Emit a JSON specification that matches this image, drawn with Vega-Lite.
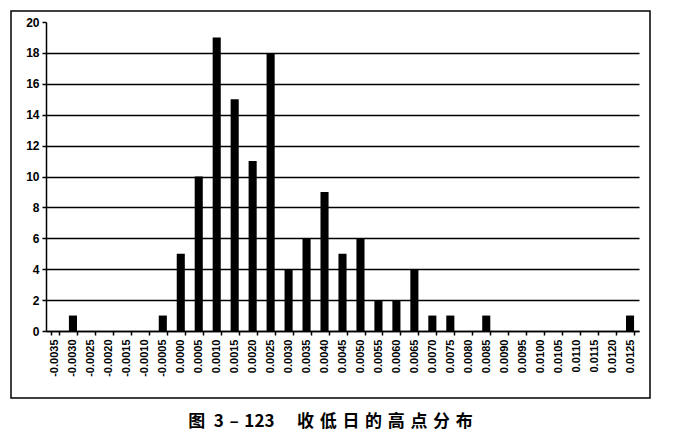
{
  "$schema": "https://vega.github.io/schema/vega-lite/v6.json",
  "width": 639,
  "height": 387,
  "autosize": "none",
  "padding": {"left": 11, "top": 11, "right": 23, "bottom": 43},
  "background": "white",
  "title": {
    "text": "图\u20023\u2004–\u2004123\u3000\u2004收\u2004低\u2004日\u2004的\u2004高\u2004点\u2004分\u2004布",
    "orient": "bottom",
    "anchor": "middle",
    "font": "Noto Sans CJK SC",
    "fontSize": 17,
    "fontWeight": "bold",
    "color": "black",
    "offset": 16
  },
  "data": {
    "values": [
      {"bin": "-0.0035", "count": 0},
      {"bin": "-0.0030", "count": 1},
      {"bin": "-0.0025", "count": 0},
      {"bin": "-0.0020", "count": 0},
      {"bin": "-0.0015", "count": 0},
      {"bin": "-0.0010", "count": 0},
      {"bin": "-0.0005", "count": 1},
      {"bin": "0.0000", "count": 5},
      {"bin": "0.0005", "count": 10},
      {"bin": "0.0010", "count": 19},
      {"bin": "0.0015", "count": 15},
      {"bin": "0.0020", "count": 11},
      {"bin": "0.0025", "count": 18},
      {"bin": "0.0030", "count": 4},
      {"bin": "0.0035", "count": 6},
      {"bin": "0.0040", "count": 9},
      {"bin": "0.0045", "count": 5},
      {"bin": "0.0050", "count": 6},
      {"bin": "0.0055", "count": 2},
      {"bin": "0.0060", "count": 2},
      {"bin": "0.0065", "count": 4},
      {"bin": "0.0070", "count": 1},
      {"bin": "0.0075", "count": 1},
      {"bin": "0.0080", "count": 0},
      {"bin": "0.0085", "count": 1},
      {"bin": "0.0090", "count": 0},
      {"bin": "0.0095", "count": 0},
      {"bin": "0.0100", "count": 0},
      {"bin": "0.0105", "count": 0},
      {"bin": "0.0110", "count": 0},
      {"bin": "0.0115", "count": 0},
      {"bin": "0.0120", "count": 0},
      {"bin": "0.0125", "count": 1}
    ]
  },
  "mark": {"type": "bar", "color": "black"},
  "encoding": {
    "x": {
      "field": "bin",
      "type": "ordinal",
      "sort": null,
      "scale": {"range": [35, 628], "paddingInner": 0.55, "paddingOuter": 0.275},
      "axis": {
        "title": null,
        "offset": -67,
        "labelAngle": 270,
        "labelAlign": "right",
        "labelBaseline": "middle",
        "labelFont": "Liberation Sans",
        "labelFontWeight": "bold",
        "labelFontSize": 11,
        "labelColor": "black",
        "labelPadding": 4,
        "labelOverlap": false,
        "domainColor": "black",
        "domainWidth": 1.5,
        "tickColor": "black",
        "tickWidth": 1.5,
        "tickSize": 4,
        "tickBand": "extent"
      }
    },
    "y": {
      "field": "count",
      "type": "quantitative",
      "scale": {"domain": [0, 20], "range": [320, 11], "nice": false},
      "axis": {
        "title": null,
        "offset": -35,
        "values": [0, 2, 4, 6, 8, 10, 12, 14, 16, 18, 20],
        "grid": true,
        "gridColor": {"condition": {"test": "datum.value == 20", "value": "transparent"}, "value": "black"},
        "gridWidth": 1.5,
        "domainColor": "black",
        "domainWidth": 1.5,
        "tickColor": "black",
        "tickWidth": 1.5,
        "tickSize": 4,
        "labelFont": "Liberation Sans",
        "labelFontWeight": "bold",
        "labelFontSize": 12,
        "labelColor": "black",
        "labelPadding": 3
      }
    }
  },
  "config": {"view": {"stroke": "black", "strokeWidth": 1.5}}
}
